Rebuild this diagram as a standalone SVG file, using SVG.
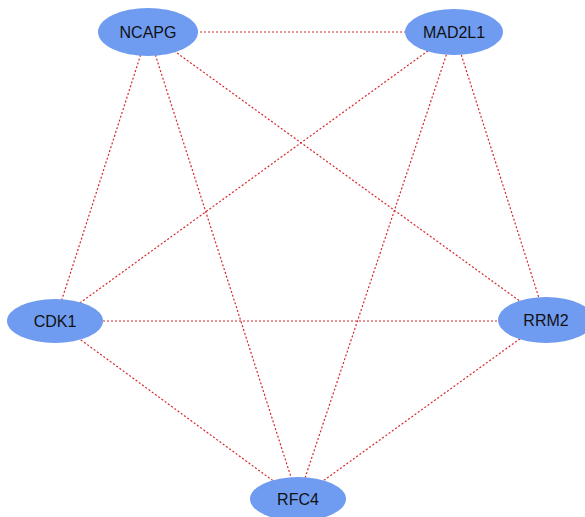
<svg xmlns="http://www.w3.org/2000/svg" width="585" height="517" viewBox="0 0 585 517">
<style>
.edge{stroke:#d8262b;stroke-width:1.2;stroke-dasharray:2,2;fill:none}
.node ellipse{fill:#6f9cf1}
.node text{font-family:"Liberation Sans",Arial,sans-serif;font-size:16px;fill:#111111;text-anchor:middle;dominant-baseline:central}
</style>
<rect width="585" height="517" fill="#ffffff"/>
<g id="connectors">
<line class="edge" x1="148" y1="32" x2="454" y2="32"/>
<line class="edge" x1="148" y1="32" x2="55" y2="321"/>
<line class="edge" x1="148" y1="32" x2="298" y2="499"/>
<line class="edge" x1="148" y1="32" x2="546" y2="320"/>
<line class="edge" x1="454" y1="32" x2="55" y2="321"/>
<line class="edge" x1="454" y1="32" x2="298" y2="499"/>
<line class="edge" x1="454" y1="32" x2="546" y2="320"/>
<line class="edge" x1="55" y1="321" x2="546" y2="321"/>
<line class="edge" x1="55" y1="321" x2="298" y2="499"/>
<line class="edge" x1="546" y1="320" x2="298" y2="499"/>
</g>
<g id="NCAPG" class="node"><ellipse cx="148" cy="32" rx="50" ry="24"/><text x="148" y="32">NCAPG</text></g>
<g id="MAD2L1" class="node"><ellipse cx="454" cy="32" rx="49" ry="23"/><text x="454" y="32">MAD2L1</text></g>
<g id="CDK1" class="node"><ellipse cx="55" cy="321" rx="48" ry="22"/><text x="55" y="321">CDK1</text></g>
<g id="RRM2" class="node"><ellipse cx="546" cy="320" rx="48" ry="23"/><text x="546" y="320">RRM2</text></g>
<g id="RFC4" class="node"><ellipse cx="298" cy="499" rx="48" ry="22"/><text x="298" y="499">RFC4</text></g>
</svg>
